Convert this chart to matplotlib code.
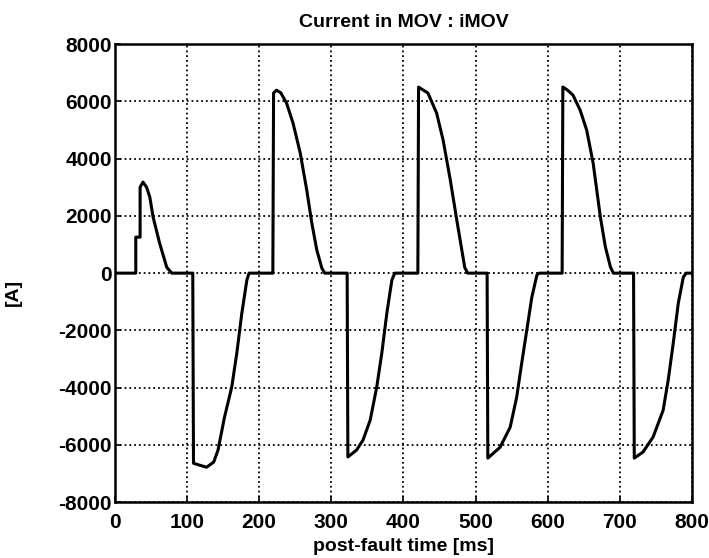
import matplotlib
matplotlib.use('Agg')
import matplotlib.pyplot as plt

# current in the MOV
time_ms = [0, 29, 29, 35, 35, 39, 44, 48.5, 53, 62, 72, 79,
           108, 109, 127, 137, 143, 152, 162, 169, 176, 183, 186,
           219, 220, 224, 230, 238, 247, 257, 266, 273, 280, 287, 291,
           322, 323, 335, 344, 354, 363, 370, 377, 384, 388,
           420, 421, 427, 434, 446, 455, 465, 474, 481, 485, 489,
           516, 517, 534, 548, 557, 564, 571, 578, 585, 588,
           620, 621, 627, 635, 645, 654, 663, 673, 680, 687, 691,
           719, 720, 732, 746, 760, 767, 774, 781, 788, 792, 800]
i_mov = [0, 0, 1257, 1257, 3000, 3180, 3000, 2650, 1960, 1050, 200, 0,
         0, -6640, -6780, -6600, -6180, -5030, -3980, -2800, -1400, -240, 0,
         0, 6290, 6390, 6300, 5940, 5240, 4190, 2900, 1750, 800, 170, 0,
         0, -6420, -6180, -5830, -5130, -3980, -2800, -1400, -240, 0,
         0, 6500, 6400, 6290, 5590, 4650, 3250, 1850, 800, 200, 0,
         0, -6460, -6080, -5380, -4330, -3140, -1990, -840, -70, 0,
         0, 6500, 6400, 6220, 5690, 5000, 3840, 1960, 910, 210, 0,
         0, -6460, -6250, -5730, -4790, -3740, -2450, -1050, -140, 0, 0]

xticks = [0, 100, 200, 300, 400, 500, 600, 700, 800]
yticks = [-8000, -6000, -4000, -2000, 0, 2000, 4000, 6000, 8000]

plt.rcParams['font.family'] = ['Liberation Sans', 'DejaVu Sans']
plt.rcParams['font.weight'] = 'bold'

fig = plt.figure(figsize=(7.09, 5.58), dpi=100)
ax = fig.add_axes([0.162, 0.100, 0.814, 0.821])

ax.plot(time_ms, i_mov, color='black', linewidth=2.2)

ax.set_xlim(0, 800)
ax.set_ylim(-8000, 8000)
ax.set_xticks(xticks)
ax.set_yticks(yticks)
ax.set_xticklabels([str(v) for v in xticks])
ax.set_yticklabels([str(v) for v in yticks])
ax.tick_params(direction='in', length=4, width=1.2, labelsize=15)
ax.tick_params(axis='x', pad=8)
ax.tick_params(axis='y', pad=2)
ax.grid(True, color='black', linestyle=':', linewidth=1.3)
for s in ax.spines.values():
    s.set_linewidth(1.8)

ax.set_title('Current in MOV : iMOV', fontsize=14, fontweight='bold', pad=12)
ax.set_xlabel('post-fault time [ms]', fontsize=14, fontweight='bold')
ax.set_ylabel('[A]', fontsize=14, fontweight='bold')
ax.yaxis.set_label_coords(-0.161, 0.458)

fig.savefig('out.png', dpi=100)
